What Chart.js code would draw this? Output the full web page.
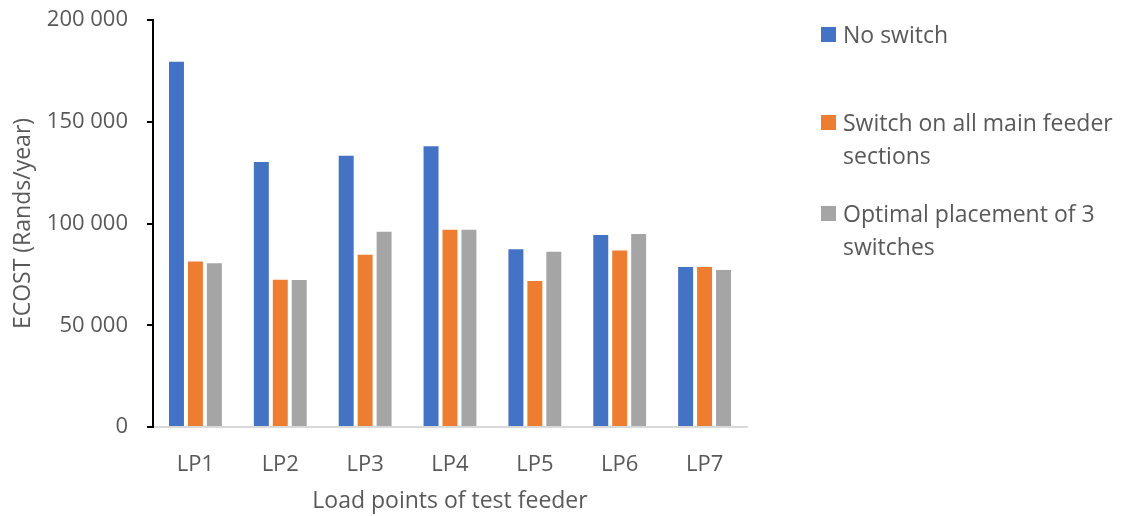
<!DOCTYPE html>
<html lang="en">
<head>
    <meta charset="UTF-8">
    <title>ECOST per load point</title>
    <script src="https://cdn.jsdelivr.net/npm/chart.js"></script>
    <style>
        body {
            margin: 0;
            background: #ffffff;
            font-family: "Open Sans", sans-serif;
        }

        #wrap {
            position: relative;
            width: 1123px;
            height: 516px;
        }

        /* legend is html so the long labels can wrap like the original */
        #legend {
            position: absolute;
            left: 821px;
            top: 0;
            color: #595959;
            font-size: 23px;
        }

        .item {
            position: absolute;
            left: 0;
            white-space: nowrap;
            line-height: 33px;
        }

        .swatch {
            position: absolute;
            left: 0;
            top: 9px;
            width: 15px;
            height: 15px;
        }

        .txt {
            margin-left: 22px;
        }
    </style>
</head>
<body>
    <div id="wrap">
        <canvas id="chart" width="1123" height="516"></canvas>
        <div id="legend"></div>
    </div>

    <script>
        const categories = ['LP1', 'LP2', 'LP3', 'LP4', 'LP5', 'LP6', 'LP7'];
        const noSwitch = [179500, 130200, 133300, 137900, 87400, 94400, 78600];
        const switchAllMain = [81300, 72300, 84600, 96900, 71700, 86700, 78600];
        const optimalThree = [80500, 72200, 95900, 96900, 86100, 94800, 77200];
        const seriesNames = [
            ['No switch'],
            ['Switch on all main feeder', 'sections'],
            ['Optimal placement of 3', 'switches']
        ];
        const yTicks = [0, 50000, 100000, 150000, 200000];

        const colors = ['#4472C4', '#ED7D31', '#A5A5A5'];
        const legendTops = [18, 106, 197];
        const textColor = '#595959';

        // legend
        const legend = document.getElementById('legend');
        seriesNames.forEach((lines, i) => {
            const item = document.createElement('div');
            item.className = 'item';
            item.style.top = legendTops[i] + 'px';
            item.innerHTML = '<span class="swatch" style="background:' + colors[i] + '"></span>' +
                '<div class="txt">' + lines.join('<br>') + '</div>';
            legend.appendChild(item);
        });

        function fmt(v) {
            return String(v).replace(/\B(?=(\d{3})+(?!\d))/g, ' ');
        }

        new Chart(document.getElementById('chart'), {
            type: 'bar',
            data: {
                labels: categories,
                datasets: [
                    { label: seriesNames[0].join(' '), data: noSwitch, backgroundColor: colors[0] },
                    { label: seriesNames[1].join(' '), data: switchAllMain, backgroundColor: colors[1] },
                    { label: seriesNames[2].join(' '), data: optimalThree, backgroundColor: colors[2] }
                ]
            },
            options: {
                responsive: false,
                animation: false,
                layout: {
                    padding: { left: 0, right: 376, top: 20, bottom: 0 }
                },
                datasets: {
                    bar: {
                        categoryPercentage: 0.67,
                        barPercentage: 0.79
                    }
                },
                plugins: {
                    legend: { display: false },
                    tooltip: { enabled: false }
                },
                scales: {
                    x: {
                        grid: { display: false },
                        border: { color: '#d9d9d9', width: 2 },
                        ticks: {
                            color: textColor,
                            padding: 17,
                            font: { family: 'Open Sans', size: 22 }
                        },
                        title: {
                            display: true,
                            text: 'Load points of test feeder',
                            color: textColor,
                            padding: 1,
                            font: { family: 'Open Sans', size: 23 }
                        },
                        afterFit(scale) {
                            scale.height = 89;
                        }
                    },
                    y: {
                        min: 0,
                        max: 200000,
                        afterBuildTicks(scale) {
                            scale.ticks = yTicks.map(v => ({ value: v }));
                        },
                        grid: {
                            drawOnChartArea: false,
                            color: '#000000',
                            tickLength: 6,
                            lineWidth: 2
                        },
                        border: { color: '#000000', width: 2 },
                        ticks: {
                            color: textColor,
                            padding: 19,
                            font: { family: 'Open Sans', size: 22 },
                            callback: v => fmt(v)
                        },
                        title: {
                            display: true,
                            text: 'ECOST (Rands/year)',
                            color: textColor,
                            padding: 10,
                            font: { family: 'Open Sans', size: 23 }
                        },
                        afterFit(scale) {
                            scale.width = 153;
                            // let the top label overhang so the axis starts at 200 000 near the top edge
                            scale.paddingTop = 0;
                            scale.paddingBottom = 0;
                        }
                    }
                }
            }
        });
    </script>
</body>
</html>
